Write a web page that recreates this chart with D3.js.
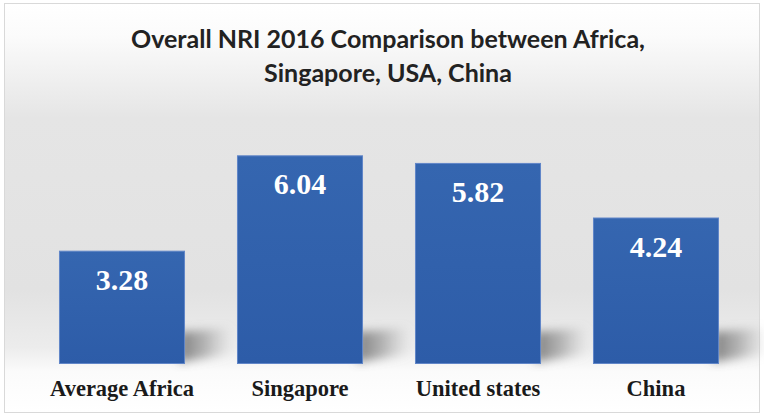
<!DOCTYPE html>
<html>
<head>
<meta charset="utf-8">
<script src="https://cdn.jsdelivr.net/npm/d3@7"></script>
<style>
  html, body { margin: 0; padding: 0; background: #ffffff; }
  svg { display: block; }
</style>
</head>
<body>
<script>
const categories = ["Average Africa", "Singapore", "United states", "China"];
const values = [3.28, 6.04, 5.82, 4.24];
const valueLabels = ["3.28", "6.04", "5.82", "4.24"];
const titleLines = ["Overall NRI 2016 Comparison between Africa,", "Singapore, USA, China"];

const W = 764, H = 417;
const svg = d3.select("body").append("svg").attr("width", W).attr("height", H);
const defs = svg.append("defs");

const bg = defs.append("linearGradient").attr("id", "bg").attr("x1", 0).attr("y1", 0).attr("x2", 0).attr("y2", 1);
[[0, "#ffffff"], [0.08, "#fbfbfb"], [0.28, "#e5e5e5"], [0.7, "#e2e2e2"], [0.84, "#ececec"], [0.9, "#fbfbfb"], [1, "#ffffff"]]
  .forEach(([o, c]) => bg.append("stop").attr("offset", o).attr("stop-color", c));

const barG = defs.append("linearGradient").attr("id", "barg").attr("x1", 0).attr("y1", 0).attr("x2", 0).attr("y2", 1);
[[0, "#3566b0"], [1, "#2d5ca8"]].forEach(([o, c]) => barG.append("stop").attr("offset", o).attr("stop-color", c));

const shG = defs.append("linearGradient").attr("id", "shg").attr("x1", 0).attr("y1", 0).attr("x2", 1).attr("y2", 0);
[[0, "#6a6a6a", 0.85], [0.5, "#8a8a8a", 0.55], [1, "#b0b0b0", 0]]
  .forEach(([o, c, op]) => shG.append("stop").attr("offset", o).attr("stop-color", c).attr("stop-opacity", op));

defs.append("filter").attr("id", "blur").attr("x", "-60%").attr("y", "-60%").attr("width", "220%").attr("height", "220%")
  .append("feGaussianBlur").attr("stdDeviation", 5);

svg.append("rect").attr("x", 4.5).attr("y", 3.5).attr("width", 755).attr("height", 409)
  .attr("fill", "url(#bg)").attr("stroke", "#d9d9d9").attr("stroke-width", 1);

const x = d3.scaleBand().domain(categories).range([33, 745]).paddingInner(0.292).paddingOuter(0.146);
const y = d3.scaleLinear().domain([0, 7]).range([364, 364 - 7 * 34.55]);

const data = categories.map((c, i) => ({ c, v: values[i], t: valueLabels[i] }));

// shadows
svg.append("g").selectAll("path").data(data).join("path")
  .attr("d", d => {
    const r = x(d.c) + x.bandwidth() - 6, b = y(0);
    return `M${r},${b - 32} L${r + 50},${b - 36} L${r + 54},${b - 10} L${r},${b - 2} Z`;
  })
  .attr("fill", "url(#shg)").attr("filter", "url(#blur)");

svg.append("g").selectAll("rect").data(data).join("rect")
  .attr("x", d => x(d.c) + 0.5).attr("y", d => y(d.v) + 0.5)
  .attr("width", x.bandwidth() - 1).attr("height", d => y(0) - y(d.v) - 1)
  .attr("fill", "url(#barg)").attr("stroke", "#6186c8").attr("stroke-width", 1);

svg.append("g").selectAll("text").data(data).join("text")
  .attr("x", d => x(d.c) + x.bandwidth() / 2).attr("y", d => y(d.v) + 39)
  .attr("text-anchor", "middle")
  .attr("font-family", "'Liberation Serif', 'Times New Roman', serif").attr("font-weight", "bold")
  .attr("font-size", 30).attr("fill", "#ffffff")
  .text(d => d.t);

const xAxis = d3.axisBottom(x).tickSize(0).tickPadding(0);
const ax = svg.append("g").attr("transform", `translate(0,${y(0)})`).call(xAxis);
ax.select(".domain").remove();
ax.selectAll("text")
  .attr("y", 31.5).attr("dy", null)
  .attr("font-family", "'Liberation Serif', 'Times New Roman', serif").attr("font-weight", "bold")
  .attr("font-size", 22.5).attr("fill", "#1a1a1a");

svg.append("g").selectAll("text").data(titleLines).join("text")
  .attr("x", 388).attr("y", (d, i) => 48 + i * 33.5)
  .attr("text-anchor", "middle")
  .attr("font-family", "Lato, 'Open Sans', sans-serif").attr("font-weight", "bold")
  .attr("font-size", 25).attr("fill", "#222222")
  .text(d => d);
</script>
</body>
</html>
